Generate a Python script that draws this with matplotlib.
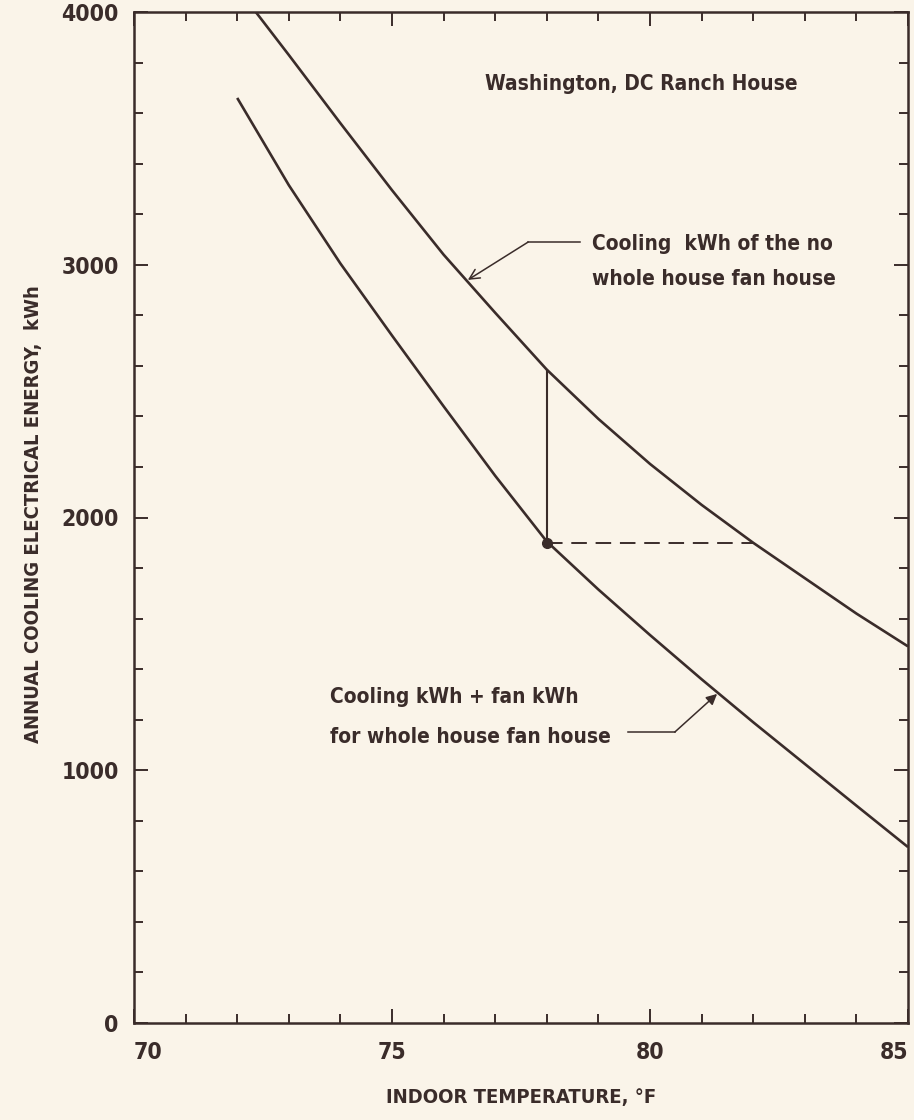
import matplotlib
matplotlib.use("Agg")
import numpy as np
import matplotlib.pyplot as plt
from matplotlib import font_manager as fm

# data
upper_temp = [72.36, 73, 74, 75, 76, 77, 78, 79, 80, 81, 82, 83, 84, 85]
upper_kwh = [4000, 3830, 3560, 3295, 3040, 2810, 2585, 2390, 2212, 2050, 1900, 1760, 1620, 1490]

lower_temp = [72, 73, 74, 75, 76, 77, 78, 79, 80, 81, 82, 83, 84, 85]
lower_kwh = [3660, 3315, 3005, 2720, 2440, 2165, 1905, 1715, 1535, 1360, 1190, 1025, 860, 696]

design_temp = 78
design_kwh = 1900

x_ticks = [70, 75, 80, 85]
y_ticks = [0, 1000, 2000, 3000, 4000]

bg = "#faf4e9"
ink = "#3a2c2a"

names = {f.name for f in fm.fontManager.ttflist}
if "Liberation Sans Narrow" in names:
    plt.rcParams["font.family"] = ["Liberation Sans Narrow", "DejaVu Sans"]
else:
    plt.rcParams["font.family"] = ["DejaVu Sans"]
    plt.rcParams["font.stretch"] = "condensed"
plt.rcParams["font.weight"] = "bold"
fs_tick = 16.5
fs_note = 15
fs_lab = 14.5

fig = plt.figure(figsize=(9.14, 11.2), dpi=100, facecolor=bg)
ax = fig.add_axes([134 / 914, 1 - 1023 / 1120, (908 - 134) / 914, (1023 - 12) / 1120])
ax.set_facecolor(bg)

ax.plot(upper_temp, upper_kwh, color=ink, lw=1.9, solid_capstyle="butt")
ax.plot(lower_temp, lower_kwh, color=ink, lw=1.9, solid_capstyle="butt")

# design point: vertical drop and dashed equivalent line
top_at_design = np.interp(design_temp, upper_temp, upper_kwh)
ax.plot([design_temp, design_temp], [design_kwh, top_at_design], color=ink, lw=1.5)
equiv_temp = np.interp(design_kwh, upper_kwh[::-1], upper_temp[::-1])
ax.plot([design_temp, equiv_temp], [design_kwh, design_kwh], color=ink, lw=1.4,
        dashes=(8, 4.5))
ax.plot([design_temp], [design_kwh], "o", color=ink, ms=7)

ax.set_xlim(70, 85)
ax.set_ylim(0, 4000)
ax.set_xticks(x_ticks)
ax.set_xticks(np.arange(70, 86, 1), minor=True)
ax.set_yticks(y_ticks)
ax.set_yticks(np.arange(0, 4001, 200), minor=True)
ax.set_xticklabels([str(v) for v in x_ticks])
ax.set_yticklabels([str(v) for v in y_ticks])

ax.tick_params(which="both", direction="in", top=True, right=True, color=ink,
               width=1.4, labelcolor=ink, labelsize=fs_tick)
ax.tick_params(which="major", length=10)
ax.tick_params(which="minor", length=6.5)
ax.tick_params(axis="x", pad=13)
ax.tick_params(axis="y", pad=11)
for s in ax.spines.values():
    s.set_color(ink)
    s.set_linewidth(1.8)

xl = ax.get_xticklabels()
xl[0].set_horizontalalignment("left")
xl[-1].set_horizontalalignment("right")

fig.text(0.5 * (134 + 908) / 914, 1 - 1097 / 1120, "INDOOR TEMPERATURE, °F",
         ha="center", va="center", fontsize=fs_lab, color=ink)
fig.text(34 / 914, 1 - 514 / 1120, "ANNUAL COOLING ELECTRICAL ENERGY,  kWh",
         ha="center", va="center", rotation=90, fontsize=fs_lab, color=ink)

ax.text(76.80, 3691, "Washington, DC Ranch House", fontsize=fs_note, color=ink,
        va="baseline", ha="left")

# upper curve label
ax.text(78.88, 3058, "Cooling  kWh of the no", fontsize=fs_note, color=ink, va="baseline")
ax.text(78.88, 2920, "whole house fan house", fontsize=fs_note, color=ink, va="baseline")
ax.plot([78.64, 77.64], [3090, 3090], color=ink, lw=1.1)
ax.annotate("", xy=(76.47, 2940), xytext=(77.64, 3090),
            arrowprops=dict(arrowstyle="->", color=ink, lw=1.1,
                            mutation_scale=18, shrinkA=0, shrinkB=0))

# lower curve label
ax.text(73.80, 1266, "Cooling kWh + fan kWh", fontsize=fs_note, color=ink, va="baseline")
ax.text(73.80, 1108, "for whole house fan house", fontsize=fs_note, color=ink, va="baseline")
ax.plot([79.57, 80.48], [1151, 1151], color=ink, lw=1.1)
ax.annotate("", xy=(81.30, 1302), xytext=(80.48, 1151),
            arrowprops=dict(arrowstyle="-|>", color=ink, lw=1.1,
                            mutation_scale=16, shrinkA=0, shrinkB=0))

fig.savefig("out.png", dpi=100, facecolor=bg)
